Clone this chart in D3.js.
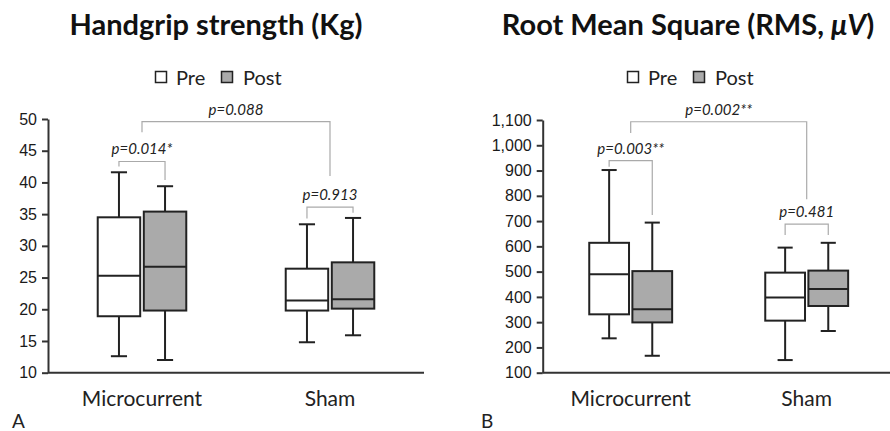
<!DOCTYPE html>
<html>
<head>
<meta charset="utf-8">
<script src="https://cdn.jsdelivr.net/npm/d3@7"></script>
<style>
  body { margin: 0; background: #fff; }
  svg { font-family: Lato, "Open Sans", sans-serif; }
  .tick text { font-size: 16px; fill: #1a1a1a; }
  .axis path, .axis line { stroke: #333; stroke-width: 2; }
</style>
</head>
<body>
<script>
var svgWidth = 890;
var svgHeight = 431;

// categories and series
var groups = ["Microcurrent", "Sham"];
var series = ["Pre", "Post"];
var seriesFill = { Pre: "#ffffff", Post: "#aaaaaa" };

// box stats per group: [min, q1, median, q3, max]
var gripPre  = [[12.6, 18.9, 25.3, 34.5, 41.6], [14.8, 19.8, 21.4, 26.4, 33.4]];
var gripPost = [[12.0, 19.8, 26.7, 35.4, 39.4], [15.9, 20.1, 21.6, 27.4, 34.4]];
var rmsPre   = [[236, 331, 490, 614, 902], [150, 306, 398, 496, 595]];
var rmsPost  = [[167, 299, 351, 502, 694], [265, 364, 431, 504, 614]];

// tick values
var gripTicks = d3.range(10, 51, 5);
var rmsTicks = d3.range(100, 1101, 100);

// p-value brackets: [label, fromGroup, fromSeries, toGroup, toSeries, top, leftEnd, rightEnd]
var gripBrackets = [
  ["p=0.088", "Microcurrent", null, "Sham", null, 49.6, 47.9, 41.0],
  ["p=0.014*", "Microcurrent", "Pre", "Microcurrent", "Post", 43.3, 42.5, 40.4],
  ["p=0.913", "Sham", "Pre", "Sham", "Post", 36.1, 34.3, 35.2]
];
var rmsBrackets = [
  ["p=0.002**", "Microcurrent", null, "Sham", null, 1093, 1049, 786],
  ["p=0.003**", "Microcurrent", "Pre", "Microcurrent", "Post", 939, 915, 724],
  ["p=0.481", "Sham", "Pre", "Sham", "Post", 688, 645, 645]
];

var svg = d3.select("body").append("svg")
  .attr("width", svgWidth)
  .attr("height", svgHeight);

function drawPanel(cfg) {
  var g = svg.append("g");

  var x = d3.scaleBand().domain(groups).range([cfg.left, cfg.right]);
  var bw = x.bandwidth();
  var xSub = d3.scaleBand().domain(series)
    .range([-0.2355 * bw, 0.2355 * bw])
    .paddingInner(0.078);
  var y = d3.scaleLinear().domain(cfg.domain).range([cfg.bottom, cfg.top]);

  function xPos(grp, ser) {
    var c = x(grp) + bw / 2;
    if (ser == null) return c;
    return c + xSub(ser) + xSub.bandwidth() / 2;
  }

  // title
  var title = g.append("text")
    .attr("x", cfg.titleX)
    .attr("y", 35)
    .attr("text-anchor", "middle")
    .style("font-size", "29px")
    .style("font-weight", "bold")
    .style("fill", "#111");
  cfg.title(title);

  // legend
  var leg = g.append("g").attr("transform", "translate(" + cfg.legendX + ",0)");
  leg.append("rect").attr("x", 0.5).attr("y", 71.5).attr("width", 11).attr("height", 11)
    .attr("fill", seriesFill.Pre).attr("stroke", "#222").attr("stroke-width", 1.5);
  leg.append("text").attr("x", 21).attr("y", 85).text("Pre")
    .style("font-size", "20px").style("fill", "#222");
  leg.append("rect").attr("x", 66.5).attr("y", 71.5).attr("width", 11).attr("height", 11)
    .attr("fill", seriesFill.Post).attr("stroke", "#222").attr("stroke-width", 1.5);
  leg.append("text").attr("x", 88).attr("y", 85).text("Post")
    .style("font-size", "20px").style("fill", "#222");

  // y axis
  g.append("g")
    .attr("class", "axis")
    .attr("transform", "translate(" + cfg.left + ",0)")
    .call(d3.axisLeft(y).tickValues(cfg.ticks).tickSize(6).tickSizeOuter(0)
      .tickFormat(d3.format(",")))
    .call(function (a) { a.selectAll("text").attr("dx", "-2px"); });

  // x axis line
  g.append("line")
    .attr("x1", cfg.left).attr("x2", cfg.right)
    .attr("y1", y(cfg.domain[0])).attr("y2", y(cfg.domain[0]))
    .attr("stroke", "#333").attr("stroke-width", 2);

  // category labels
  g.selectAll(".cat").data(groups).enter().append("text")
    .attr("class", "cat")
    .attr("x", function (d) { return x(d) + bw / 2; })
    .attr("y", 406)
    .attr("text-anchor", "middle")
    .style("font-size", "21px")
    .style("fill", "#222")
    .text(function (d) { return d; });

  // boxes
  var boxes = [];
  groups.forEach(function (grp, i) {
    boxes.push({ grp: grp, ser: "Pre", s: cfg.pre[i] });
    boxes.push({ grp: grp, ser: "Post", s: cfg.post[i] });
  });
  var half = xSub.bandwidth() / 2;
  var cap = half * 0.38;
  var bx = g.selectAll(".box").data(boxes).enter().append("g").attr("class", "box");

  bx.append("line")
    .attr("x1", function (d) { return xPos(d.grp, d.ser); })
    .attr("x2", function (d) { return xPos(d.grp, d.ser); })
    .attr("y1", function (d) { return y(d.s[4]); })
    .attr("y2", function (d) { return y(d.s[0]); })
    .attr("stroke", "#222").attr("stroke-width", 2);
  [0, 4].forEach(function (k) {
    bx.append("line")
      .attr("x1", function (d) { return xPos(d.grp, d.ser) - cap; })
      .attr("x2", function (d) { return xPos(d.grp, d.ser) + cap; })
      .attr("y1", function (d) { return y(d.s[k]); })
      .attr("y2", function (d) { return y(d.s[k]); })
      .attr("stroke", "#222").attr("stroke-width", 2);
  });
  bx.append("rect")
    .attr("x", function (d) { return xPos(d.grp, d.ser) - half; })
    .attr("width", half * 2)
    .attr("y", function (d) { return y(d.s[3]); })
    .attr("height", function (d) { return y(d.s[1]) - y(d.s[3]); })
    .attr("fill", function (d) { return seriesFill[d.ser]; })
    .attr("stroke", "#222").attr("stroke-width", 2);
  bx.append("line")
    .attr("x1", function (d) { return xPos(d.grp, d.ser) - half; })
    .attr("x2", function (d) { return xPos(d.grp, d.ser) + half; })
    .attr("y1", function (d) { return y(d.s[2]); })
    .attr("y2", function (d) { return y(d.s[2]); })
    .attr("stroke", "#222").attr("stroke-width", 2);

  // brackets
  cfg.brackets.forEach(function (b) {
    var x1 = xPos(b[1], b[2]);
    var x2 = xPos(b[3], b[4]);
    g.append("path")
      .attr("d", "M" + x1 + "," + y(b[6]) + "V" + y(b[5]) + "H" + x2 + "V" + y(b[7]))
      .attr("fill", "none")
      .attr("stroke", "#aaa")
      .attr("stroke-width", 1.2);
    g.append("text")
      .attr("x", (x1 + x2) / 2)
      .attr("y", y(b[5]) - 7)
      .attr("text-anchor", "middle")
      .style("font-size", "15px")
      .style("font-style", "italic")
      .style("fill", "#222")
      .text(b[0]);
  });

  // panel letter
  g.append("text")
    .attr("x", cfg.letterX)
    .attr("y", 428)
    .style("font-size", "19px")
    .style("fill", "#222")
    .text(cfg.letter);
}

drawPanel({
  left: 48, right: 424, top: 119, bottom: 372.7,
  domain: [10, 50], ticks: gripTicks,
  pre: gripPre, post: gripPost, brackets: gripBrackets,
  titleX: 216, legendX: 155, letterX: 12, letter: "A",
  title: function (t) { t.text("Handgrip strength (Kg)"); }
});

drawPanel({
  left: 542.7, right: 894.7, top: 120, bottom: 372.7,
  domain: [100, 1100], ticks: rmsTicks,
  pre: rmsPre, post: rmsPost, brackets: rmsBrackets,
  titleX: 688, legendX: 627, letterX: 481, letter: "B",
  title: function (t) {
    t.append("tspan").text("Root Mean Square (RMS, ");
    t.append("tspan").style("font-style", "italic").text("\u03bcV");
    t.append("tspan").text(")");
  }
});
</script>
</body>
</html>
